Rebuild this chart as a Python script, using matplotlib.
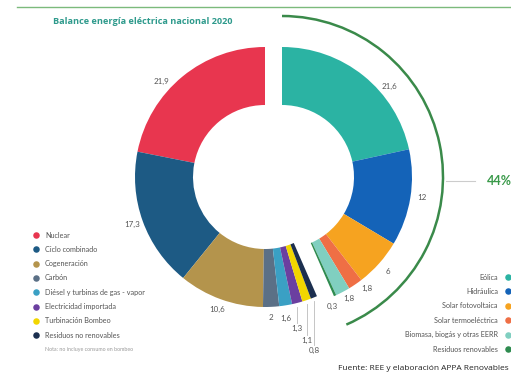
import numpy as np
import matplotlib
matplotlib.use("Agg")
import matplotlib.pyplot as plt
from matplotlib.patches import Arc

# ---------------- data ----------------
title = "Balance energía eléctrica nacional 2020"
nonrenew_labels = ["Nuclear", "Ciclo combinado", "Cogeneración", "Carbón",
                   "Diésel y turbinas de gas - vapor", "Electricidad importada",
                   "Turbinación Bombeo", "Residuos no renovables"]
nonrenew_values = [21.9, 17.3, 10.6, 2, 1.6, 1.3, 1.1, 0.8]
nonrenew_texts = ["21,9", "17,3", "10,6", "2", "1,6", "1,3", "1,1", "0,8"]

renew_labels = ["Eólica", "Hidráulica", "Solar fotovoltaica", "Solar termoeléctrica",
                "Biomasa, biogás y otras EERR", "Residuos renovables"]
renew_values = [21.6, 12, 6, 1.8, 1.8, 0.3]
renew_texts = ["21,6", "12", "6", "1,8", "1,8", "0,3"]
renew_share = "44%"

note = "Nota: no incluye consumo en bombeo"
source = "Fuente: REE y elaboración APPA Renovables"

# ---------------- style ----------------
nonrenew_colors = ["#e8364f", "#1d5a84", "#b4944c", "#5b7086",
                   "#3aa0c4", "#6b3fa0", "#f2d600", "#1c2f4f"]
renew_colors = ["#2bb3a3", "#1463b8", "#f6a320", "#ef6f45", "#80cfc0", "#2e8b4f"]
# label placement nudges (degrees, radius)
nonrenew_nudge = [8, 0, 0, 0, 0, 0, 0, 0]
renew_nudge = [-11, 1, 0, 3, 1, -3]
renew_label_r = [141, 141, 142, 140, 139, 139]

W, H = 511, 376
fig = plt.figure(figsize=(W / 100, H / 100), dpi=100)
ax = fig.add_axes([0, 0, 1, 1])
plt.rcParams['font.family'] = ['Lato', 'DejaVu Sans']

def py(y):
    return H - y

R = 130
width = 58
cy = py(177)
cx_left, cx_right = 265, 282
total = sum(nonrenew_values) + sum(renew_values)

# non-renewables: counterclockwise from top
ax.pie([v / total for v in nonrenew_values], colors=nonrenew_colors,
       startangle=90, counterclock=True, normalize=False, radius=R,
       center=(cx_left, cy), wedgeprops=dict(width=width, linewidth=0))
# renewables: clockwise from top
ax.pie([v / total for v in renew_values], colors=renew_colors,
       startangle=90, counterclock=False, normalize=False, radius=R,
       center=(cx_right, cy), wedgeprops=dict(width=width, linewidth=0))

lab_kw = dict(fontsize=5.8, color="#555555", ha="center", va="center")
label_r = 141

# non-renewable value labels
ang = 90.0
small_y = [None, None, None, 318, 318, 328, 340, 350]
for v, t, sy, nd in zip(nonrenew_values, nonrenew_texts, small_y, nonrenew_nudge):
    span = v / total * 360
    mid = np.radians(ang + span / 2 + nd)
    ang += span
    if sy is None:
        x = cx_left + label_r * np.cos(mid)
        y = cy + label_r * np.sin(mid)
        ax.text(x, y, t, **lab_kw)
    else:
        x = cx_left + R * np.cos(mid)
        y0 = cy + R * np.sin(mid)
        if sy > 320:
            ax.plot([x, x], [y0 - 4, py(sy) + 5], color="#bbbbbb", lw=0.6)
        ax.text(x, py(sy), t, **lab_kw)

# renewable value labels
ang = 90.0
for v, t, nd, lr in zip(renew_values, renew_texts, renew_nudge, renew_label_r):
    span = v / total * 360
    mid = np.radians(ang - span / 2 + nd)
    ang -= span
    x = cx_right + lr * np.cos(mid)
    y = cy + lr * np.sin(mid)
    ax.text(x, y, t, **lab_kw)

# green arc around renewables
renew_end = 90 - sum(renew_values) / total * 360
arc = Arc((cx_right, cy), 2 * 161, 2 * 161, theta1=renew_end, theta2=90,
          color="#3a8a4a", lw=1.8)
ax.add_patch(arc)
ax.plot([446, 475], [py(181), py(181)], color="#cccccc", lw=0.8)
ax.text(487, py(181), renew_share, color="#3a9a4a", fontsize=9,
        fontweight="bold", ha="left", va="center")

# top line & title
ax.plot([17, W], [py(7), py(7)], color="#7cba7c", lw=1.0)
ax.text(53, py(22), title, color="#2e9a8c", fontsize=6.6, fontweight="bold",
        ha="left", va="center", family=["Open Sans", "DejaVu Sans"])

# left legend
for i, (lab, c) in enumerate(zip(nonrenew_labels, nonrenew_colors)):
    yy = py(235 + i * 14.3)
    ax.scatter([36], [yy], s=22, color=c, linewidths=0)
    ax.text(45, yy, lab, fontsize=5.2, color="#555555", ha="left", va="center")
ax.text(45, py(350), note, fontsize=3.8, color="#999999", ha="left", va="center")

# right legend
for i, (lab, c) in enumerate(zip(renew_labels, renew_colors)):
    yy = py(277 + i * 14.4)
    ax.scatter([508], [yy], s=22, color=c, linewidths=0)
    ax.text(498, yy, lab, fontsize=5.2, color="#555555", ha="right", va="center")

ax.text(509, py(368), source, fontsize=6.0, color="#222222", ha="right",
        va="center", family=["Open Sans", "DejaVu Sans"])

ax.set_xlim(0, W)
ax.set_ylim(0, H)
ax.set_aspect("equal")
ax.axis("off")
fig.savefig("out.png", dpi=100)
